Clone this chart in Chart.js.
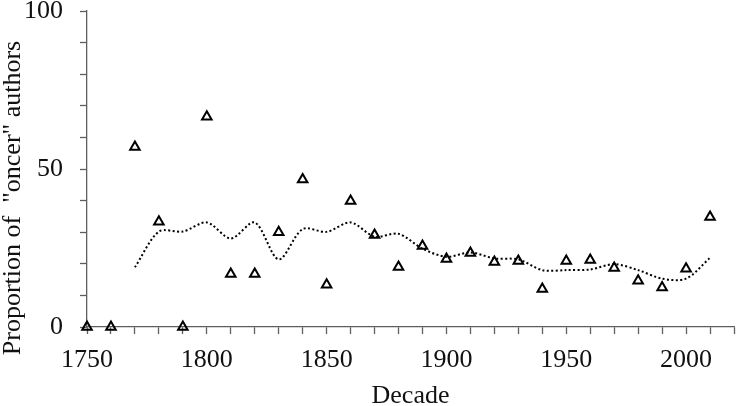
<!DOCTYPE html>
<html>
<head>
<meta charset="utf-8">
<script src="https://cdn.jsdelivr.net/npm/chart.js@4"></script>
<style>
  html, body { margin: 0; padding: 0; background: #fff; }
  #wrap { width: 737px; height: 406px; }
</style>
</head>
<body>
<div id="wrap"><canvas id="chart" width="737" height="406"></canvas></div>
<script>
// Share of "oncer" authors per decade (triangles)
const decades = [1750, 1760, 1770, 1780, 1790, 1800, 1810, 1820, 1830, 1840, 1850, 1860, 1870, 1880,
  1890, 1900, 1910, 1920, 1930, 1940, 1950, 1960, 1970, 1980, 1990, 2000, 2010];
const oncerShare = [0, 0, 57, 33.3, 0, 66.5, 16.8, 16.8, 30, 46.7, 13.4, 39.9, 29.1, 19,
  25.6, 21.5, 23.4, 20.6, 20.9, 12, 20.9, 21.2, 18.7, 14.6, 12.5, 18.4, 34.8];

// Dotted trend line (3-decade moving average)
const trendDecades = [1770, 1780, 1790, 1800, 1810, 1820, 1830, 1840, 1850, 1860, 1870, 1880,
  1890, 1900, 1910, 1920, 1930, 1940, 1950, 1960, 1970, 1980, 1990, 2000, 2010];
const trendValues = [18.9, 30.2, 30.2, 33.1, 28, 33.1, 21.4, 31, 30.1, 33.1, 28.6, 29.5,
  24.8, 22.2, 23.6, 21.7, 21.4, 18, 18, 18.2, 19.9, 18, 15.3, 15.3, 21.9];

const xTickLabels = [1750, 1800, 1850, 1900, 1950, 2000];
const yTickLabels = [0, 50, 100];

const axisColor = '#5e5e5e';
const textFont = { family: '"Liberation Serif", "Times New Roman", serif', size: 26 };

// y title drawn by hand so it can sit lower than the plot centre, as in the source
const yTitlePlugin = {
  id: 'yTitle',
  afterDraw(chart) {
    const ctx = chart.ctx;
    ctx.save();
    ctx.translate(13, 198);
    ctx.rotate(-Math.PI / 2);
    ctx.font = '26px "Liberation Serif", "Times New Roman", serif';
    ctx.fillStyle = '#111';
    ctx.textAlign = 'center';
    ctx.textBaseline = 'middle';
    ctx.fillText('Proportion of  "oncer" authors', 0, 0);
    ctx.restore();
  }
};

new Chart(document.getElementById('chart'), {
  type: 'scatter',
  data: {
    datasets: [
      {
        label: 'oncer share',
        data: decades.map((d, i) => ({ x: d, y: oncerShare[i] })),
        pointStyle: 'triangle',
        pointRadius: 5.5,
        pointHoverRadius: 5.5,
        pointBorderColor: '#000',
        pointBackgroundColor: 'rgba(255,255,255,0)',
        pointBorderWidth: 2,
        clip: false,
        order: 1
      },
      {
        label: 'trend',
        type: 'line',
        data: trendDecades.map((d, i) => ({ x: d, y: trendValues[i] })),
        borderColor: '#000',
        borderWidth: 2,
        borderDash: [2, 2.4],
        pointRadius: 0,
        tension: 0.3,
        fill: false,
        order: 2
      }
    ]
  },
  options: {
    responsive: false,
    animation: false,
    // the point overflow would otherwise push the right edge in
    layout: { autoPadding: false, padding: { top: 11, right: 3, left: 0, bottom: 0 } },
    plugins: {
      legend: { display: false },
      tooltip: { enabled: false }
    },
    scales: {
      x: {
        type: 'linear',
        min: 1750,
        max: 2020,
        afterFit: s => {
          s.height = 79;
          s.paddingLeft = 0;
          s.paddingRight = 0;
        },
        border: { color: axisColor, width: 1.3 },
        grid: { drawOnChartArea: false, drawTicks: true, tickLength: 7, color: axisColor, tickWidth: 1.3 },
        ticks: {
          stepSize: 10,
          autoSkip: false,
          maxRotation: 0,
          padding: 11,
          color: '#111',
          font: textFont,
          callback: v => xTickLabels.includes(v) ? String(v) : ''
        },
        title: {
          display: true,
          text: 'Decade',
          color: '#111',
          font: { ...textFont, lineHeight: 0.75 },
          padding: 0
        }
      },
      y: {
        min: 0,
        max: 100,
        afterFit: s => {
          s.width = 87;
          s.paddingTop = 0;
          s.paddingBottom = 0;
        },
        border: { color: axisColor, width: 1.3 },
        grid: { drawOnChartArea: false, drawTicks: true, tickLength: 7, color: axisColor, tickWidth: 1.3 },
        ticks: {
          stepSize: 10,
          autoSkip: false,
          padding: 17,
          color: '#111',
          font: textFont,
          callback: v => yTickLabels.includes(v) ? String(v) : ''
        }
      }
    }
  },
  plugins: [yTitlePlugin]
});
</script>
</body>
</html>
